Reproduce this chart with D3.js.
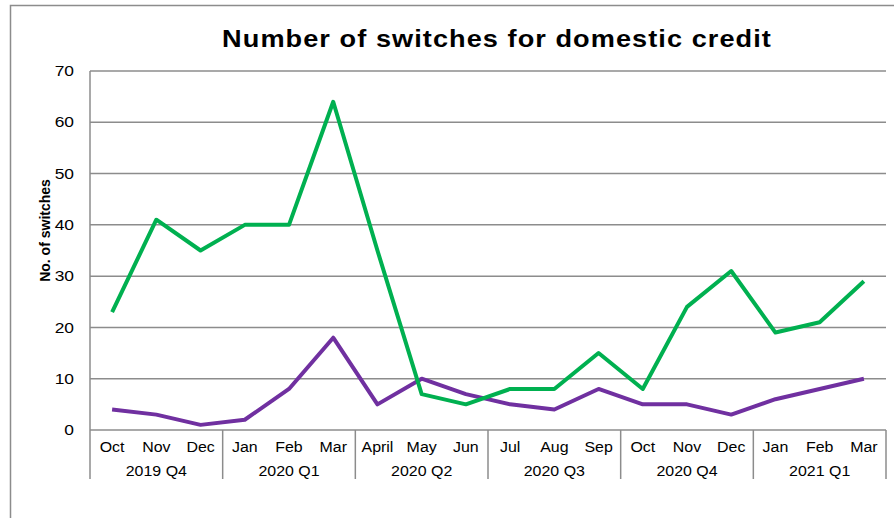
<!DOCTYPE html>
<html>
<head>
<meta charset="utf-8">
<script src="https://cdn.jsdelivr.net/npm/d3@7"></script>
<style>
  body { margin: 0; background: #fff; }
  svg { display: block; font-family: "Liberation Sans", Arial, sans-serif; }
</style>
</head>
<body>
<div id="chart"></div>
<script>
// data
var months = ["Oct","Nov","Dec","Jan","Feb","Mar","April","May","Jun","Jul","Aug","Sep","Oct","Nov","Dec","Jan","Feb","Mar"];
var quarters = ["2019 Q4","2020 Q1","2020 Q2","2020 Q3","2020 Q4","2021 Q1"];
var greenSeries = [23, 41, 35, 40, 40, 64, 35, 7, 5, 8, 8, 15, 8, 24, 31, 19, 21, 29];
var purpleSeries = [4, 3, 1, 2, 8, 18, 5, 10, 7, 5, 4, 8, 5, 5, 3, 6, 8, 10];
var yTicks = [0, 10, 20, 30, 40, 50, 60, 70];

var width = 894, height = 518;
var margin = { top: 71, right: 8, bottom: 88, left: 90 };
var plotW = width - margin.left - margin.right,
    plotH = height - margin.top - margin.bottom;

var svg = d3.select("#chart").append("svg")
  .attr("width", width)
  .attr("height", height);

// outer chart frame (left + top edges visible)
svg.append("rect")
  .attr("x", 10.5).attr("y", 5.5)
  .attr("width", 1000).attr("height", 1000)
  .attr("fill", "none")
  .attr("stroke", "#8c8c8c")
  .attr("stroke-width", 1.5);

// title is a bit stretched sideways in the original
svg.append("text")
  .attr("transform", "translate(497,47) scale(1.18,1)")
  .attr("text-anchor", "middle")
  .attr("font-size", "23px")
  .attr("font-weight", "bold")
  .attr("letter-spacing", "0.9px")
  .text("Number of switches for domestic credit");

var g = svg.append("g")
  .attr("transform", "translate(" + margin.left + "," + margin.top + ")");

var x = d3.scaleBand()
  .domain(d3.range(months.length))
  .range([0, plotW]);

var y = d3.scaleLinear()
  .domain([0, 70])
  .range([plotH, 0]);

// gridlines
g.selectAll("line.grid")
  .data(yTicks)
  .enter().append("line")
  .attr("class", "grid")
  .attr("x1", 0).attr("x2", plotW)
  .attr("y1", function(d) { return y(d); })
  .attr("y2", function(d) { return y(d); })
  .attr("stroke", "#8c8c8c")
  .attr("stroke-width", 1.5);

// y axis line + labels
g.append("line")
  .attr("x1", 0).attr("x2", 0)
  .attr("y1", 0).attr("y2", plotH)
  .attr("stroke", "#8c8c8c")
  .attr("stroke-width", 1.5);

g.selectAll("text.ytick")
  .data(yTicks)
  .enter().append("text")
  .attr("class", "ytick")
  .attr("transform", function(d) { return "translate(-16," + y(d) + ") scale(1.2,1)"; })
  .attr("dy", "0.35em")
  .attr("text-anchor", "end")
  .attr("font-size", "14.5px")
  .text(function(d) { return d; });

svg.append("text")
  .attr("transform", "translate(50," + (margin.top + plotH / 2 - 20) + ") rotate(-90)")
  .attr("text-anchor", "middle")
  .attr("font-size", "14px")
  .attr("font-weight", "bold")
  .text("No. of switches");

// category axis: months + quarter groups
g.selectAll("text.month")
  .data(months)
  .enter().append("text")
  .attr("class", "month")
  .attr("transform", function(d, i) {
    return "translate(" + (x(i) + x.bandwidth() / 2) + "," + (plotH + 22) + ") scale(1.1,1)";
  })
  .attr("text-anchor", "middle")
  .attr("font-size", "14.5px")
  .text(function(d) { return d; });

var qw = x.bandwidth() * 3;
g.selectAll("text.quarter")
  .data(quarters)
  .enter().append("text")
  .attr("class", "quarter")
  .attr("transform", function(d, i) {
    return "translate(" + (x(i * 3) + qw / 2) + "," + (plotH + 46) + ") scale(1.1,1)";
  })
  .attr("text-anchor", "middle")
  .attr("font-size", "14.5px")
  .text(function(d) { return d; });

g.selectAll("line.sep")
  .data(d3.range(quarters.length + 1))
  .enter().append("line")
  .attr("class", "sep")
  .attr("x1", function(d) { return d * qw; })
  .attr("x2", function(d) { return d * qw; })
  .attr("y1", plotH).attr("y2", plotH + 49)
  .attr("stroke", "#8c8c8c")
  .attr("stroke-width", 1.5);

// lines
var line = d3.line()
  .x(function(d, i) { return x(i) + x.bandwidth() / 2; })
  .y(function(d) { return y(d); });

g.append("path")
  .datum(purpleSeries)
  .attr("fill", "none")
  .attr("stroke", "#7030a0")
  .attr("stroke-width", 4)
  .attr("stroke-linejoin", "round")
  .attr("d", line);

g.append("path")
  .datum(greenSeries)
  .attr("fill", "none")
  .attr("stroke", "#00b050")
  .attr("stroke-width", 4)
  .attr("stroke-linejoin", "round")
  .attr("d", line);
</script>
</body>
</html>
